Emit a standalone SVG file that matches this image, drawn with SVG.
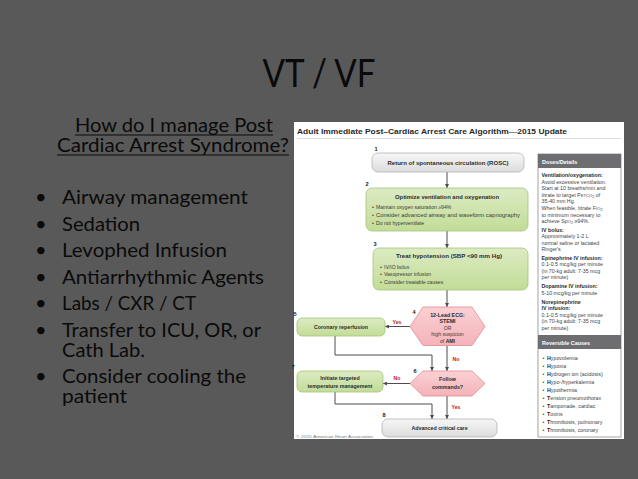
<svg xmlns="http://www.w3.org/2000/svg" width="638" height="479" viewBox="0 0 638 479">
<defs>
<style>
.sl{font-family:Lato,"Open Sans","Liberation Sans",sans-serif;fill:#0a0a0a}
.a{font-family:"Liberation Sans",Arial,sans-serif}
.bt{font-weight:bold;font-size:5.3px;fill:#2b2b2b;text-anchor:middle}
.tx{font-size:5.1px;fill:#3a3a3a}
.num{font-weight:bold;font-size:5.6px;fill:#222;text-anchor:middle}
.lab{font-weight:bold;font-size:5.2px;fill:#c4161c;text-anchor:middle}
.pt{font-size:5.3px;fill:#444}
.pb{font-weight:bold;fill:#2a2a2a}
.ph{font-weight:bold;font-size:5.4px;fill:#fff}
.green{fill:url(#gg);stroke:#a3c47a;stroke-width:0.8}
.grey{fill:url(#gy);stroke:#b3b3b3;stroke-width:0.8}
.hex{fill:url(#gp);stroke:#e08c93;stroke-width:0.8}
.con{fill:none;stroke:#4d4d4d;stroke-width:1;marker-end:url(#ah)}
</style>
<linearGradient id="gg" x1="0" y1="0" x2="0" y2="1"><stop offset="0" stop-color="#dcebc3"/><stop offset="1" stop-color="#c2dc97"/></linearGradient>
<linearGradient id="gy" x1="0" y1="0" x2="0" y2="1"><stop offset="0" stop-color="#f7f7f7"/><stop offset="1" stop-color="#dcdcdc"/></linearGradient>
<linearGradient id="gp" x1="0" y1="0" x2="0" y2="1"><stop offset="0" stop-color="#fbd0d4"/><stop offset="1" stop-color="#f3b3b9"/></linearGradient>
<marker id="ah" viewBox="0 0 10 10" refX="10" refY="5" markerWidth="4" markerHeight="4" orient="auto" markerUnits="userSpaceOnUse"><path d="M0,0 L10,5 L0,10 z" fill="#4d4d4d"/></marker>
</defs>
<rect x="0" y="0" width="638" height="479" fill="#595959"/>

<g id="slide-title"><text class="sl" x="319" y="87" font-size="39" text-anchor="middle" textLength="113" lengthAdjust="spacingAndGlyphs">VT / VF</text></g>

<g id="left-text">
<text class="sl" font-size="20"><tspan x="75" y="132" textLength="198" lengthAdjust="spacingAndGlyphs">How do I manage Post</tspan><tspan x="57" y="152" textLength="232" lengthAdjust="spacingAndGlyphs">Cardiac Arrest Syndrome?</tspan></text>
<line x1="75" y1="135" x2="273" y2="135" stroke="#0a0a0a" stroke-width="1.2"/>
<line x1="57" y1="155" x2="289" y2="155" stroke="#0a0a0a" stroke-width="1.2"/>
<g font-size="20">
<text class="sl" x="35" y="204">•</text><text class="sl" x="62" y="204" textLength="186" lengthAdjust="spacingAndGlyphs">Airway management</text>
<text class="sl" x="35" y="230.5">•</text><text class="sl" x="62" y="230.5" textLength="78" lengthAdjust="spacingAndGlyphs">Sedation</text>
<text class="sl" x="35" y="257">•</text><text class="sl" x="62" y="257" textLength="165" lengthAdjust="spacingAndGlyphs">Levophed Infusion</text>
<text class="sl" x="35" y="283.5">•</text><text class="sl" x="62" y="283.5" textLength="202" lengthAdjust="spacingAndGlyphs">Antiarrhythmic Agents</text>
<text class="sl" x="35" y="310">•</text><text class="sl" x="62" y="310" textLength="134" lengthAdjust="spacingAndGlyphs">Labs / CXR / CT</text>
<text class="sl" x="35" y="336.5">•</text><text class="sl"><tspan x="62" y="336.5" textLength="199" lengthAdjust="spacingAndGlyphs">Transfer to ICU, OR, or</tspan><tspan x="62" y="356.5" textLength="83" lengthAdjust="spacingAndGlyphs">Cath Lab.</tspan></text>
<text class="sl" x="35" y="383">•</text><text class="sl"><tspan x="62" y="383" textLength="184" lengthAdjust="spacingAndGlyphs">Consider cooling the</tspan><tspan x="62" y="403" textLength="65" lengthAdjust="spacingAndGlyphs">patient</tspan></text>
</g>
</g>

<g id="algorithm">
<rect x="294" y="122" width="330" height="317" fill="#ffffff"/>
<text class="a" x="297" y="133.5" font-size="7.6" font-weight="bold" fill="#2a2a2a" textLength="270" lengthAdjust="spacingAndGlyphs">Adult Immediate Post–Cardiac Arrest Care Algorithm—2015 Update</text>
<line x1="297" y1="138.5" x2="621" y2="138.5" stroke="#c8c8c8" stroke-width="0.6"/>

<g id="connectors">
<path class="con" d="M447,172 V188"/>
<path class="con" d="M447,231 V248"/>
<path class="con" d="M447,290 V307"/>
<path class="con" d="M410,326.5 H385"/>
<path class="con" d="M447,345.5 V371"/>
<path class="con" d="M335,336 V355 H432 V371"/>
<path class="con" d="M410,383.5 H383"/>
<path class="con" d="M335,392 V404 H432 V419"/>
<path class="con" d="M447,396 V419"/>
<g class="a">
<text class="lab" x="397" y="324">Yes</text>
<text class="lab" x="456" y="361">No</text>
<text class="lab" x="397" y="380">No</text>
<text class="lab" x="456" y="409">Yes</text>
</g>
</g>

<g id="n1" class="a">
<text class="num" x="376" y="150.5">1</text>
<rect class="grey" x="372" y="153" width="152" height="19" rx="6"/>
<text class="bt" x="448" y="164.5" textLength="121" lengthAdjust="spacingAndGlyphs">Return of spontaneous circulation (ROSC)</text>
</g>

<g id="n2" class="a">
<text class="num" x="367" y="185.5">2</text>
<rect class="green" x="366" y="188" width="162" height="43" rx="6"/>
<text class="bt" x="447" y="198.5" textLength="104" lengthAdjust="spacingAndGlyphs">Optimize ventilation and oxygenation</text>
<text class="tx" x="372" y="209">•</text><text class="tx" x="376" y="209">Maintain oxygen saturation ≥94%</text>
<text class="tx" x="372" y="217">•</text><text class="tx" x="376" y="217" textLength="144" lengthAdjust="spacingAndGlyphs">Consider advanced airway and waveform capnography</text>
<text class="tx" x="372" y="225">•</text><text class="tx" x="376" y="225">Do not hyperventilate</text>
</g>

<g id="n3" class="a">
<text class="num" x="375" y="245.5">3</text>
<rect class="green" x="373" y="248" width="155" height="42" rx="6"/>
<text class="bt" x="449" y="257.5" textLength="106" lengthAdjust="spacingAndGlyphs">Treat hypotension (SBP &lt;90 mm Hg)</text>
<text class="tx" x="380" y="268.5">•</text><text class="tx" x="384" y="268.5">IV/IO bolus</text>
<text class="tx" x="380" y="276">•</text><text class="tx" x="384" y="276">Vasopressor infusion</text>
<text class="tx" x="380" y="283.5">•</text><text class="tx" x="384" y="283.5">Consider treatable causes</text>
</g>

<g id="n4" class="a">
<text class="num" x="414" y="314">4</text>
<polygon class="hex" points="423,307 472,307 485,326.5 472,345.5 423,345.5 410,326.5"/>
<text class="bt" x="447.5" y="316.5">12-Lead ECG:</text>
<text class="bt" x="447.5" y="323">STEMI</text>
<text class="tx" x="447.5" y="329.5" text-anchor="middle">OR</text>
<text class="tx" x="447.5" y="336" text-anchor="middle">high suspicion</text>
<text class="tx" x="447.5" y="342.5" text-anchor="middle">of <tspan font-weight="bold" fill="#2b2b2b">AMI</tspan></text>
</g>

<g id="n5" class="a">
<text class="num" x="295" y="315.5">5</text>
<rect class="green" x="297" y="318" width="88" height="18" rx="5"/>
<text class="bt" x="341" y="329">Coronary reperfusion</text>
</g>

<g id="n6" class="a">
<text class="num" x="415" y="373">6</text>
<polygon class="hex" points="423,371 472,371 485,383.5 472,396 423,396 410,383.5"/>
<text class="bt" x="447.5" y="381">Follow</text>
<text class="bt" x="447.5" y="388.5">commands?</text>
</g>

<g id="n7" class="a">
<text class="num" x="293" y="368.5">7</text>
<rect class="green" x="297" y="371" width="86" height="21" rx="5"/>
<text class="bt" x="340" y="380">Initiate targeted</text>
<text class="bt" x="340" y="388">temperature management</text>
</g>

<g id="n8" class="a">
<text class="num" x="384" y="417">8</text>
<rect class="grey" x="382" y="419" width="115" height="18" rx="6"/>
<text class="bt" x="439.5" y="430">Advanced critical care</text>
</g>

<text class="a" x="296" y="437.5" font-size="4.3" fill="#7a7a7a" textLength="77" lengthAdjust="spacingAndGlyphs">© 2015 American Heart Association</text>

<g id="doses" class="a">
<rect x="538" y="154" width="83" height="283" fill="#ffffff" stroke="#8c8c8c" stroke-width="0.8"/>
<rect x="538" y="154" width="83" height="14" fill="#6e6e70"/>
<text class="ph" x="542" y="163.5">Doses/Details</text>
<g class="pt">
<text x="541.5" y="177" class="pb">Ventilation/oxygenation:</text>
<text x="541.5" y="183.6">Avoid excessive ventilation.</text>
<text x="541.5" y="190.2">Start at 10 breaths/min and</text>
<text x="541.5" y="196.8">titrate to target P<tspan font-size="4.2">ETCO</tspan><tspan font-size="3.6" dy="1">2</tspan><tspan dy="-1"> of</tspan></text>
<text x="541.5" y="203.4">35-40 mm Hg.</text>
<text x="541.5" y="210">When feasible, titrate F<tspan font-size="4.2">IO</tspan><tspan font-size="3.6" dy="1">2</tspan></text>
<text x="541.5" y="216.6">to minimum necessary to</text>
<text x="541.5" y="223.2">achieve Sp<tspan font-size="4.2">O</tspan><tspan font-size="3.6" dy="1">2</tspan><tspan dy="-1"> ≥94%.</tspan></text>
<text x="541.5" y="231.5" class="pb">IV bolus:</text>
<text x="541.5" y="238.1">Approximately 1-2 L</text>
<text x="541.5" y="244.7">normal saline or lactated</text>
<text x="541.5" y="251.3">Ringer's</text>
<text x="541.5" y="259.6" class="pb">Epinephrine IV infusion:</text>
<text x="541.5" y="266.2">0.1-0.5 mcg/kg per minute</text>
<text x="541.5" y="272.8">(in 70-kg adult: 7-35 mcg</text>
<text x="541.5" y="279.4">per minute)</text>
<text x="541.5" y="288" class="pb">Dopamine IV infusion:</text>
<text x="541.5" y="294.6">5-10 mcg/kg per minute</text>
<text x="541.5" y="303.5" class="pb">Norepinephrine</text>
<text x="541.5" y="310.1" class="pb">IV infusion:</text>
<text x="541.5" y="316.7">0.1-0.5 mcg/kg per minute</text>
<text x="541.5" y="323.3">(in 70-kg adult: 7-35 mcg</text>
<text x="541.5" y="329.9">per minute)</text>
</g>
<rect x="538" y="335" width="83" height="14" fill="#6e6e70"/>
<text class="ph" x="542" y="344.5">Reversible Causes</text>
<g class="pt">
<text x="542.5" y="360">•</text><text x="547" y="360"><tspan class="pb">H</tspan>ypovolemia</text>
<text x="542.5" y="368">•</text><text x="547" y="368"><tspan class="pb">H</tspan>ypoxia</text>
<text x="542.5" y="376">•</text><text x="547" y="376"><tspan class="pb">H</tspan>ydrogen ion (acidosis)</text>
<text x="542.5" y="384">•</text><text x="547" y="384"><tspan class="pb">H</tspan>ypo-/hyperkalemia</text>
<text x="542.5" y="392">•</text><text x="547" y="392"><tspan class="pb">H</tspan>ypothermia</text>
<text x="542.5" y="400">•</text><text x="547" y="400"><tspan class="pb">T</tspan>ension pneumothorax</text>
<text x="542.5" y="408">•</text><text x="547" y="408"><tspan class="pb">T</tspan>amponade, cardiac</text>
<text x="542.5" y="416">•</text><text x="547" y="416"><tspan class="pb">T</tspan>oxins</text>
<text x="542.5" y="424">•</text><text x="547" y="424"><tspan class="pb">T</tspan>hrombosis, pulmonary</text>
<text x="542.5" y="432">•</text><text x="547" y="432"><tspan class="pb">T</tspan>hrombosis, coronary</text>
</g>
</g>
</g>
</svg>
